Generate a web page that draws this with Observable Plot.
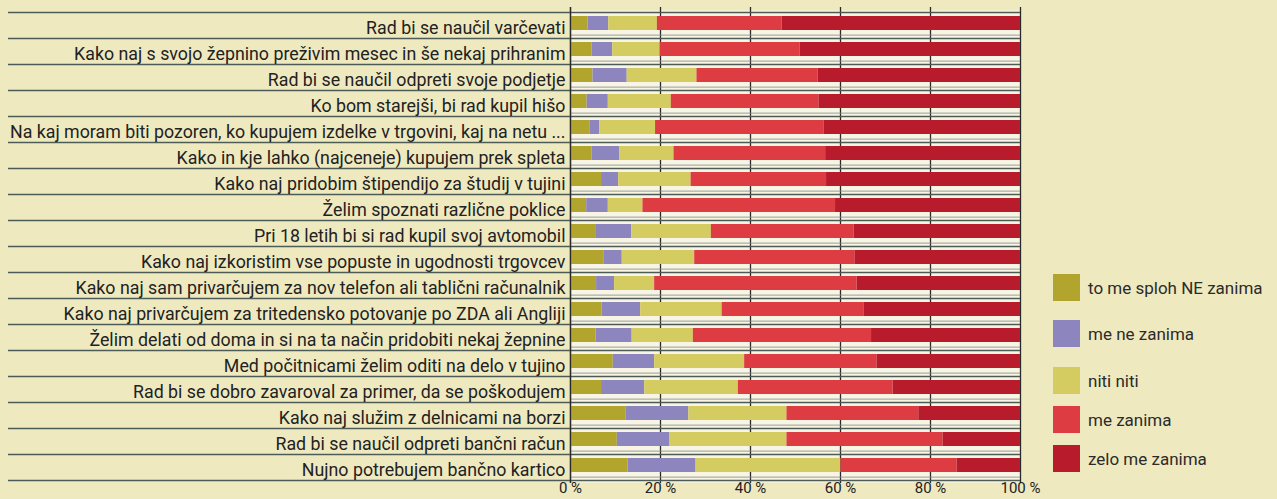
<!DOCTYPE html>
<html>
<head>
<meta charset="utf-8">
<script src="https://cdn.jsdelivr.net/npm/d3@7"></script>
<script src="https://cdn.jsdelivr.net/npm/@observablehq/plot@0.6"></script>
<style>
  html, body { margin: 0; padding: 0; background: #efe9c0; overflow: hidden; }
  #wrap { position: relative; width: 1277px; height: 499px; overflow: hidden; font-family: Roboto, "Noto Sans", sans-serif; }
  #wrap svg { display: block; }
  #legend { position: absolute; left: 1053px; top: 274px; }
  .item { position: absolute; left: 0; display: flex; align-items: center; white-space: nowrap; font-size: 17px; color: #2b2b2b; }
  .sw { width: 27px; height: 27px; margin-right: 8px; }
</style>
</head>
<body>
<div id="wrap"></div>
<script>
const categories = [
  "Rad bi se naučil varčevati",
  "Kako naj s svojo žepnino preživim mesec in še nekaj prihranim",
  "Rad bi se naučil odpreti svoje podjetje",
  "Ko bom starejši, bi rad kupil hišo",
  "Na kaj moram biti pozoren, ko kupujem izdelke v trgovini, kaj na netu ...",
  "Kako in kje lahko (najceneje) kupujem prek spleta",
  "Kako naj pridobim štipendijo za študij v tujini",
  "Želim spoznati različne poklice",
  "Pri 18 letih bi si rad kupil svoj avtomobil",
  "Kako naj izkoristim vse popuste in ugodnosti trgovcev",
  "Kako naj sam privarčujem za nov telefon ali tablični računalnik",
  "Kako naj privarčujem za tritedensko potovanje po ZDA ali Angliji",
  "Želim delati od doma in si na ta način pridobiti nekaj žepnine",
  "Med počitnicami želim oditi na delo v tujino",
  "Rad bi se dobro zavaroval za primer, da se poškodujem",
  "Kako naj služim z delnicami na borzi",
  "Rad bi se naučil odpreti bančni račun",
  "Nujno potrebujem bančno kartico"
];
const seriesNames = ["to me sploh NE zanima", "me ne zanima", "niti niti", "me zanima", "zelo me zanima"];
const seriesColors = ["#b2a52d", "#8d85bd", "#d4cc60", "#dc3c42", "#b81b2c"];

const splohNe = [3.9, 4.8, 5.0, 3.7, 4.4, 4.8, 6.9, 3.6, 5.6, 7.4, 5.8, 7.0, 5.7, 9.5, 6.9, 12.4, 10.4, 12.8];
const meNe    = [4.6, 4.6, 7.6, 4.7, 2.1, 6.1, 3.8, 4.8, 8.0, 4.1, 4.0, 8.6, 8.0, 9.2, 9.6, 13.9, 11.6, 15.1];
const nitiNiti= [10.8, 10.5, 15.5, 14.0, 12.4, 12.1, 16.1, 7.7, 17.7, 16.1, 8.9, 18.1, 13.6, 20.0, 20.8, 21.8, 26.1, 32.2];
const meZan   = [27.7, 31.1, 26.9, 32.8, 37.5, 33.7, 30.1, 42.8, 31.7, 35.6, 45.0, 31.6, 39.6, 29.4, 34.4, 29.3, 34.7, 25.8];
const zeloZan = [53.0, 49.0, 45.0, 44.8, 43.6, 43.3, 43.1, 41.1, 37.0, 36.8, 36.3, 34.7, 33.1, 31.9, 28.3, 22.6, 17.2, 14.1];
const xTicks = [0, 20, 40, 60, 80, 100];
const xTickLabels = ["0 %", "20 %", "40 %", "60 %", "80 %", "100 %"];

const seriesValues = [splohNe, meNe, nitiNiti, meZan, zeloZan];
const data = [];
categories.forEach((c, i) => {
  seriesNames.forEach((s, j) => data.push({category: c, series: s, value: seriesValues[j][i]}));
});
const tickData = xTicks.map((v, i) => ({value: v, label: xTickLabels[i]}));

const marginTop = 10, marginBottom = 17, height = 499;
const step = (height - marginTop - marginBottom) / categories.length;
const lineColor = "#4e5c58";

const chart = Plot.plot({
  width: 1277,
  height,
  marginTop,
  marginBottom,
  marginLeft: 570,
  marginRight: 257,
  style: {background: "transparent", fontFamily: "Roboto, 'Noto Sans', sans-serif", color: "#262626"},
  x: {domain: [0, 100], ticks: xTicks, label: null, axis: null},
  y: {domain: categories, padding: 0, label: null},
  color: {domain: seriesNames, range: seriesColors},
  marks: [
    Plot.frame({fill: "#f8f5e4", stroke: null}),
    // vertical grid lines
    Plot.ruleX(xTicks, {stroke: "#2a2a2a", strokeWidth: 1.3, insetTop: -3, insetBottom: -1}),
    // row boundary lines in the plot area (double lines)
    Plot.ruleY(categories, {y: d => d, dy: step / 2, stroke: lineColor, strokeWidth: 1.5}),
    Plot.ruleY(categories, {y: d => d, dy: step / 2 - 3.5, stroke: "#7d8a84", strokeWidth: 0.8}),
    Plot.ruleY([categories[0]], {dy: -step / 2, stroke: lineColor, strokeWidth: 1.5}),
    // row boundary lines under labels
    Plot.axisY({tickSize: 562, text: null, dy: step / 2, stroke: lineColor, strokeWidth: 1.5, label: null}),
    Plot.axisY({ticks: [categories[0]], tickSize: 562, text: null, dy: -step / 2, stroke: lineColor, strokeWidth: 1.5, label: null}),
    // labels
    Plot.axisY({tickSize: 0, tickPadding: 5, dy: 2.5, fontSize: 17.8, fill: "#222", label: null}),
    // bars
    Plot.barX(data, Plot.stackX({
      x: "value", y: "category", fill: "series", order: seriesNames,
      insetTop: 4, insetBottom: 8
    })),
    Plot.ruleX([0], {stroke: "#2a2a2a", strokeWidth: 1.3, insetTop: -3, insetBottom: -1}),
    // x tick labels
    Plot.text(tickData, {x: "value", text: "label", frameAnchor: "bottom", lineAnchor: "top", dy: 0, fontSize: 15, fill: "#222"})
  ]
});

const wrap = document.getElementById("wrap");
wrap.appendChild(chart);

const legend = document.createElement("div");
legend.id = "legend";
const tops = [0, 46, 93, 132, 171];
seriesNames.forEach((s, i) => {
  const it = document.createElement("div");
  it.className = "item";
  it.style.top = tops[i] + "px";
  const sw = document.createElement("div");
  sw.className = "sw";
  sw.style.background = seriesColors[i];
  const t = document.createElement("span");
  t.textContent = s;
  it.appendChild(sw);
  it.appendChild(t);
  legend.appendChild(it);
});
wrap.appendChild(legend);
</script>
</body>
</html>
